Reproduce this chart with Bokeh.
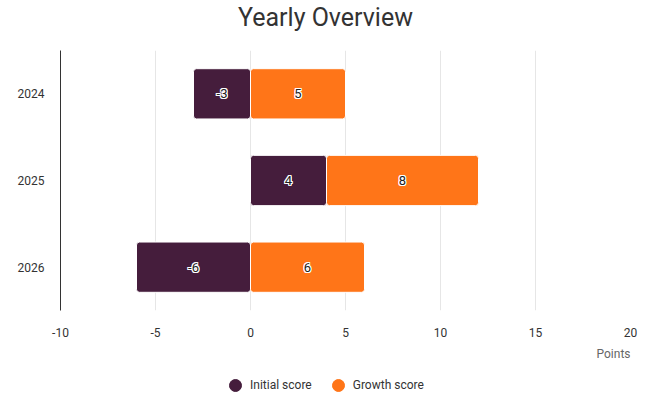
from bokeh.plotting import figure
from bokeh.layouts import column
from bokeh.models import (Range1d, FixedTicker, Legend, LegendItem, ColumnDataSource, Label,
                          CustomJSTickFormatter)
from bokeh.core.properties import value
from bokeh.embed import file_html
from bokeh.resources import INLINE

years = ["2024", "2025", "2026"]
initial_score = [-3, 4, -6]
growth_score = [5, 8, 6]
series_names = ["Initial score", "Growth score"]
series_colors = ["#451d3c", "#ff7518"]
x_ticks = [-10, -5, 0, 5, 10, 15, 20]
title_text = "Yearly Overview"
x_label = "Points"

FONT = "Roboto"
W = 650
FRAME_L, FRAME_R = 60, 630   # frames are aligned across the column


def blank(h):
    f = figure(width=W, height=h, x_range=Range1d(FRAME_L, FRAME_R), y_range=Range1d(0, h),
               x_axis_type=None, y_axis_type=None, output_backend="svg", toolbar_location=None,
               min_border=0)
    f.outline_line_color = None
    f.grid.grid_line_color = None
    return f


# ---- title strip
p0 = blank(40)
p0.add_layout(Label(x=325, y=23, text=title_text, text_align="center", text_baseline="middle",
                    text_font=FONT, text_font_size="25px", text_color="#333333"))

# ---- main chart
p = figure(width=W, height=300, y_range=list(reversed(years)), x_range=Range1d(-10, 20),
           output_backend="svg", toolbar_location=None,
           min_border_left=FRAME_L, min_border_right=W - FRAME_R, min_border_top=10,
           min_border_bottom=30)
p.outline_line_color = None

pos_base = [0.0] * len(years)
neg_base = [0.0] * len(years)
for name, vals, color in zip(series_names, [initial_score, growth_score], series_colors):
    lefts, rights = [], []
    for i, v in enumerate(vals):
        if v >= 0:
            lefts.append(pos_base[i]); rights.append(pos_base[i] + v); pos_base[i] += v
        else:
            rights.append(neg_base[i]); lefts.append(neg_base[i] + v); neg_base[i] += v
    mids = [(a + b) / 2 for a, b in zip(lefts, rights)]
    src = ColumnDataSource(dict(y=years, left=lefts, right=rights, mid=mids,
                                lab=[str(v) for v in vals]))
    p.hbar(y="y", left="left", right="right", height=0.58, source=src, fill_color=color,
           line_color="white", line_width=1, border_radius=3)
    for dx, dy in [(-1, 0), (1, 0), (0, -1), (0, 1), (-1, -1), (1, 1), (-1, 1), (1, -1)]:
        p.text(x="mid", y="y", text="lab", source=src, text_align="center", text_baseline="middle",
               text_font=value(FONT), text_font_size="13px", text_color="white",
               x_offset=dx, y_offset=dy)
    p.text(x="mid", y="y", text="lab", source=src, text_align="center", text_baseline="middle",
           text_font=value(FONT), text_font_size="13px", text_color="#222222")

p.ygrid.grid_line_color = None
p.xgrid.grid_line_color = "#e6e6e6"
p.xaxis.ticker = FixedTicker(ticks=x_ticks)
p.xaxis.formatter = CustomJSTickFormatter(code="return tick.toString();")
p.xaxis.axis_line_color = None
p.xaxis.major_tick_line_color = None
p.xaxis.minor_tick_line_color = None
p.xaxis.major_label_text_font = FONT
p.xaxis.major_label_text_font_size = "12px"
p.xaxis.major_label_text_color = "#333333"
p.xaxis.major_label_standoff = 11
p.yaxis.axis_line_color = "#333333"
p.yaxis.major_tick_line_color = None
p.yaxis.minor_tick_line_color = None
p.yaxis.major_label_text_font = FONT
p.yaxis.major_label_text_font_size = "12px"
p.yaxis.major_label_text_color = "#333333"
p.yaxis.major_label_standoff = 10

# ---- axis title + legend strip
p2 = blank(66)
p2.add_layout(Label(x=630, y=60, text=x_label, text_align="right", text_baseline="top",
                    text_font=FONT, text_font_size="12px", text_color="#666666"))
items = []
for name, vals, color in zip(series_names, [initial_score, growth_score], series_colors):
    r = p2.scatter(x=vals, y=vals, marker="circle", size=0, fill_color=color, line_color=color)
    items.append(LegendItem(label=name, renderers=[r]))
legend = Legend(items=items, orientation="horizontal", location=(160, 6), border_line_color=None,
                background_fill_alpha=0,
                label_text_font=FONT, label_text_font_size="12px", label_text_color="#333333",
                spacing=11, glyph_width=30, glyph_height=30, label_standoff=0, padding=0, margin=0)
p2.add_layout(legend, "center")

layout = column(p0, p, p2, spacing=0)
open("out.html", "w").write(file_html(layout, INLINE))
